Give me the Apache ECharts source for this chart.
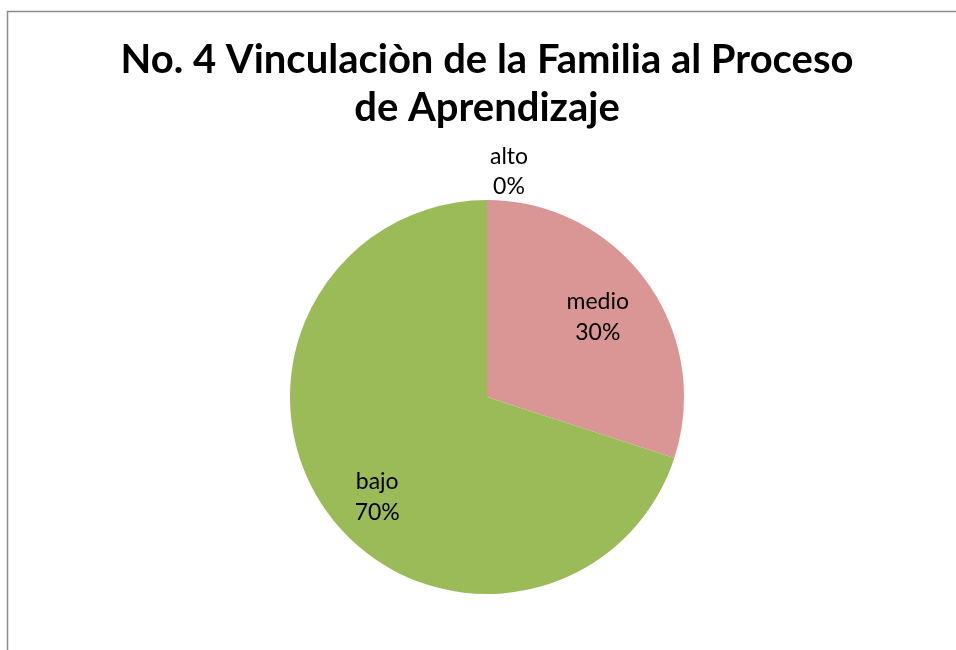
<!DOCTYPE html>
<html><head><meta charset="utf-8">
<script src="https://cdn.jsdelivr.net/npm/echarts@6/dist/echarts.min.js"></script>
<style>html,body{margin:0;padding:0;background:#fff}#c{width:956px;height:650px}</style>
</head><body><div id="c"></div>
<script>
const titleText = 'No. 4 Vinculaciòn de la Familia al Proceso\nde Aprendizaje';
const categories = ['alto', 'medio', 'bajo'];
const values = [0, 30, 70];
const colors = ['#4F81BD', '#D99694', '#9BBB59'];

const chart = echarts.init(document.getElementById('c'));
const R = 197;
const fontFam = 'Lato, "Open Sans", sans-serif';
const labelShift = [[0, 0], [-4, 3], [5, 17]];
const mainData = categories.map((n, i) => ({
  name: n, value: values[i], itemStyle: { color: colors[i] },
  label: i === 0 ? { show: true } : { show: false }
}));
const labelData = categories.map((n, i) => ({
  name: n, value: values[i],
  label: i === 0 ? { show: false } : { show: true }
}));
chart.setOption({
  animation: false,
  backgroundColor: '#fff',
  title: {
    text: titleText, left: 482, textAlign: 'center', top: 31,
    textStyle: { fontFamily: fontFam, fontWeight: 'bold', fontSize: 40, lineHeight: 48, color: '#000' }
  },
  graphic: [{ type: 'rect', shape: { x: 7.5, y: 11.5, width: 1000, height: 700 }, style: { fill: 'none', stroke: '#8c8c8c', lineWidth: 1.5 }, silent: true }],
  series: [{
    type: 'pie', center: [487, 397], radius: [0, R], startAngle: 90, clockwise: true,
    stillShowZeroSum: true, silent: true,
    label: { position: 'outside', formatter: '{b}\n{d}%', fontFamily: fontFam, fontSize: 23, lineHeight: 30, color: '#000' },
    labelLine: { show: false, length: 28, length2: 0 },
    labelLayout: { align: 'center', dx: 27 },
    itemStyle: { borderWidth: 0 },
    data: mainData
  }, {
    type: 'pie', center: [487, 397], radius: [0, R * 1.41], startAngle: 90, clockwise: true,
    silent: true, z: 5,
    itemStyle: { color: 'rgba(0,0,0,0)', borderWidth: 0 },
    label: { position: 'inside', formatter: '{b}\n{d}%', fontFamily: fontFam, fontSize: 23, lineHeight: 31, color: '#000' },
    labelLine: { show: false },
    labelLayout: (p) => ({ dx: labelShift[p.dataIndex][0], dy: labelShift[p.dataIndex][1] }),
    data: labelData
  }]
});
</script></body></html>
